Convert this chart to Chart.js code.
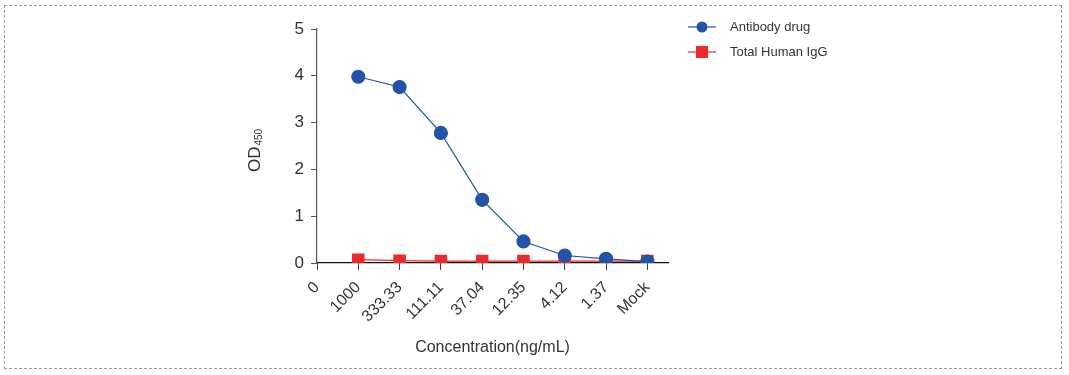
<!DOCTYPE html>
<html>
<head>
<meta charset="utf-8">
<script src="https://cdn.jsdelivr.net/npm/chart.js@4"></script>
<style>
  html, body { margin: 0; padding: 0; background: #fff; }
  #wrap { position: relative; width: 1069px; height: 375px; }
  #frame { position: absolute; left: 4px; top: 5px; width: 1056px; height: 362px; border: 1px dashed #999; }
  canvas { position: absolute; left: 0; top: 0; }
</style>
</head>
<body>
<div id="wrap">
  <div id="frame"></div>
  <canvas id="odChart" width="1069" height="375"></canvas>
</div>
<script>
// --- DATA ---
const concLabels = ['0', '1000', '333.33', '111.11', '37.04', '12.35', '4.12', '1.37', 'Mock'];
const sampleConc = ['1000', '333.33', '111.11', '37.04', '12.35', '4.12', '1.37', 'Mock'];
const antibodyDrug = [3.98, 3.76, 2.78, 1.35, 0.46, 0.16, 0.09, 0.03];
const totalHumanIgG = [0.07, 0.05, 0.04, 0.04, 0.04, 0.04, 0.04, 0.04];
const yTicks = [0, 1, 2, 3, 4, 5];

const BLUE = '#2353a5';
const RED = '#ea2a2c';
const FONT = 'Arial, "Liberation Sans", sans-serif';

function toPoints(values) {
    return values.map((v, i) => ({ x: concLabels.indexOf(sampleConc[i]), y: v }));
}

// y axis title with subscript + legend, drawn on the canvas
const extrasPlugin = {
    id: 'extras',
    afterDraw(chart) {
        const ctx = chart.ctx;
        ctx.save();
        ctx.fillStyle = '#333';
        ctx.textBaseline = 'alphabetic';
        ctx.translate(260, 172);
        ctx.rotate(-Math.PI / 2);
        ctx.font = '17px ' + FONT;
        ctx.fillText('OD', 0, 0);
        const w = ctx.measureText('OD').width;
        ctx.font = '10px ' + FONT;
        ctx.fillText('450', w + 1, 2);
        ctx.restore();

        const items = [
            { text: 'Antibody drug', color: BLUE, shape: 'circle', y: 27 },
            { text: 'Total Human IgG', color: RED, shape: 'rect', y: 52 }
        ];
        items.forEach(it => {
            ctx.save();
            ctx.strokeStyle = it.color;
            ctx.fillStyle = it.color;
            ctx.lineWidth = 1.2;
            ctx.beginPath();
            ctx.moveTo(688, it.y);
            ctx.lineTo(716, it.y);
            ctx.stroke();
            ctx.beginPath();
            if (it.shape === 'circle') {
                ctx.arc(702, it.y, 5.5, 0, Math.PI * 2);
            } else {
                ctx.rect(696, it.y - 6, 12, 12);
            }
            ctx.fill();
            ctx.fillStyle = '#333';
            ctx.font = '13px ' + FONT;
            ctx.textBaseline = 'middle';
            ctx.fillText(it.text, 730, it.y);
            ctx.restore();
        });
    }
};

const ctx = document.getElementById('odChart').getContext('2d');
new Chart(ctx, {
    type: 'line',
    data: {
        datasets: [{
            label: 'Antibody drug',
            data: toPoints(antibodyDrug),
            borderColor: BLUE,
            backgroundColor: BLUE,
            borderWidth: 1.2,
            pointStyle: 'circle',
            pointRadius: 6.5,
            pointHoverRadius: 6.5,
            tension: 0
        }, {
            label: 'Total Human IgG',
            data: toPoints(totalHumanIgG),
            borderColor: RED,
            backgroundColor: RED,
            borderWidth: 1.2,
            pointStyle: 'rect',
            pointRadius: 8,
            pointHoverRadius: 8,
            tension: 0
        }]
    },
    options: {
        responsive: false,
        animation: false,
        layout: { padding: { left: 0, right: 401, top: 29, bottom: 0 } },
        plugins: {
            legend: { display: false },
            tooltip: { enabled: false }
        },
        scales: {
            x: {
                type: 'linear',
                min: 0,
                max: 8.5,
                afterFit: s => { s.height = 112; },
                afterBuildTicks: s => { s.ticks = concLabels.map((l, i) => ({ value: i })); },
                grid: { display: true, drawOnChartArea: false, tickLength: 7, color: '#444', lineWidth: 1 },
                border: { display: true, color: '#111', width: 1.2 },
                ticks: {
                    autoSkip: false,
                    minRotation: 45,
                    maxRotation: 45,
                    color: '#333',
                    font: { size: 16, family: FONT },
                    padding: 8,
                    callback: v => concLabels[v]
                },
                title: {
                    display: true,
                    text: 'Concentration(ng/mL)',
                    color: '#333',
                    font: { size: 16, family: FONT },
                    padding: { top: 0, bottom: 18 }
                }
            },
            y: {
                min: 0,
                max: 5,
                afterFit: s => { s.width = 317; },
                afterBuildTicks: s => { s.ticks = yTicks.map(v => ({ value: v })); },
                grid: { display: true, drawOnChartArea: false, tickLength: 6, color: '#555' },
                border: { display: true, color: '#555', width: 1.2 },
                ticks: {
                    color: '#333',
                    font: { size: 17, family: FONT },
                    padding: 7
                }
            }
        }
    },
    plugins: [extrasPlugin]
});
</script>
</body>
</html>
